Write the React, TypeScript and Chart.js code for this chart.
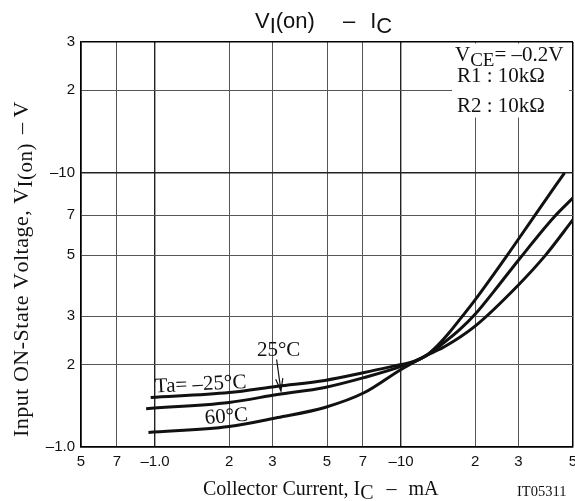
import React, { useEffect, useRef } from "react";
import { Chart, registerables } from "chart.js";

Chart.register(...registerables);

// ---- Data ----
const xTicks = [0.5, 0.7, 1, 2, 3, 5, 7, 10, 20, 30, 50];
const xTickLabels = ["5", "7", "–1.0", "2", "3", "5", "7", "–10", "2", "3", "5"];
const yTicks = [1, 2, 3, 5, 7, 10, 20, 30];
const yTickLabels = ["–1.0", "2", "3", "5", "7", "–10", "2", "3"];

const icMinus25 = [0.96, 2, 3.15, 4.9, 7.1, 10, 11.3, 12.6, 14.1, 15.9, 17.6, 20, 27, 35, 46.2];
const vMinus25 = [1.516, 1.58, 1.667, 1.749, 1.869, 2.0, 2.05, 2.15, 2.35, 2.65, 2.97, 3.44, 5.0, 7.0, 10.0];
const ic25 = [0.92, 2, 3.15, 4.9, 7.1, 10, 12.6, 15, 17.3, 20, 25, 30, 41.9, 50];
const v25 = [1.38, 1.454, 1.554, 1.649, 1.793, 1.967, 2.15, 2.41, 2.68, 3.05, 3.9, 4.8, 6.9, 8.1];
const ic60 = [0.94, 2, 3.15, 4.9, 7.1, 10, 12.6, 15, 20, 30, 38.6, 50];
const v60 = [1.13, 1.188, 1.281, 1.394, 1.58, 1.918, 2.15, 2.32, 2.76, 3.9, 5.0, 6.75];

const SANS = "'Liberation Sans', Arial, sans-serif";
const SERIF = "'Liberation Serif', 'Times New Roman', serif";

type Part = { t: string; sub?: boolean; dx?: number };

function drawRich(
  ctx: CanvasRenderingContext2D,
  parts: Part[],
  x: number,
  y: number,
  font: string,
  subFont: string,
  subDy: number,
  spacing = 0
) {
  ctx.save();
  ctx.textAlign = "left";
  ctx.textBaseline = "alphabetic";
  let cx = x;
  parts.forEach((p) => {
    ctx.font = p.sub ? subFont : font;
    cx += p.dx || 0;
    for (const ch of p.t) {
      ctx.fillText(ch, cx, y + (p.sub ? subDy : 0));
      cx += ctx.measureText(ch).width + spacing;
    }
  });
  ctx.restore();
  return cx - x;
}

const annotPlugin = {
  id: "annot",
  afterDraw(chart: any) {
    const { ctx, scales, chartArea } = chart;
    const xs = scales.x;
    const ys = scales.y;
    ctx.save();
    ctx.fillStyle = "#111";

    // Title
    drawRich(
      ctx,
      [{ t: "V" }, { t: "I", sub: true }, { t: "(on)" }, { t: "–", dx: 28 }, { t: "I", dx: 15 }, { t: "C", sub: true }],
      255,
      28,
      `22px ${SANS}`,
      `22px ${SANS}`,
      5
    );

    // Y axis title (rotated)
    const yParts: Part[] = [
      { t: "Input ON-State Voltage, V" },
      { t: "I(on)", sub: true },
      { t: "–", dx: 9 },
      { t: "V", dx: 5 },
    ];
    ctx.save();
    ctx.translate(27.5, 437);
    ctx.rotate(-Math.PI / 2);
    drawRich(ctx, yParts, 0, 0, `22px ${SERIF}`, `21px ${SERIF}`, 4, 0.5);
    ctx.restore();

    // X axis title
    drawRich(
      ctx,
      [{ t: "Collector Current, I" }, { t: "C", sub: true }, { t: "–", dx: 13 }, { t: "mA", dx: 12 }],
      203,
      495,
      `20px ${SERIF}`,
      `20px ${SERIF}`,
      4
    );
    ctx.font = `14.5px ${SERIF}`;
    ctx.textAlign = "left";
    ctx.fillText("IT05311", 517, 496);

    // Condition box
    const bx = chartArea.right - 121;
    ctx.fillStyle = "#fff";
    ctx.fillRect(bx, chartArea.top + 1.5, 117, 74);
    ctx.fillStyle = "#111";
    drawRich(
      ctx,
      [{ t: "V" }, { t: "CE", sub: true }, { t: "= –0.2V" }],
      bx + 3,
      61,
      `21px ${SERIF}`,
      `19px ${SERIF}`,
      5
    );
    ctx.font = `21px ${SERIF}`;
    ctx.textAlign = "left";
    ctx.fillText("R1 : 10kΩ", bx + 5, 82);
    ctx.fillText("R2 : 10kΩ", bx + 5, 112);

    // Curve labels
    ctx.font = `21px ${SERIF}`;
    const px = (v: number) => xs.getPixelForValue(v);
    const py = (v: number) => ys.getPixelForValue(v);

    ctx.save();
    ctx.translate(px(1.0), py(1.58));
    ctx.rotate(-0.05);
    ctx.textAlign = "left";
    ctx.fillText("Ta= –25°C", 0, 0);
    ctx.restore();

    ctx.save();
    ctx.translate(px(1.96), py(1.23));
    ctx.rotate(-0.08);
    ctx.textAlign = "center";
    ctx.fillText("60°C", 0, 0);
    ctx.restore();

    ctx.textAlign = "center";
    ctx.fillText("25°C", px(3.18), py(2.14));

    // Arrow
    const ax0 = px(3.12), ay0 = py(2.085);
    const ax1 = px(3.25), ay1 = py(1.6);
    ctx.strokeStyle = "#111";
    ctx.lineWidth = 1.2;
    ctx.beginPath();
    ctx.moveTo(ax0, ay0);
    ctx.lineTo(ax1, ay1);
    const ang = Math.atan2(ay1 - ay0, ax1 - ax0);
    const L = 13, a = 0.28;
    ctx.moveTo(ax1 - L * Math.cos(ang - a), ay1 - L * Math.sin(ang - a));
    ctx.lineTo(ax1, ay1);
    ctx.lineTo(ax1 - L * Math.cos(ang + a), ay1 - L * Math.sin(ang + a));
    ctx.stroke();

    ctx.restore();
  },
};

function gridColor(v: number, edges: number[]) {
  if (edges.includes(v)) return "#000";
  if (v === 1 || v === 10) return "#222";
  return "#555";
}
function gridWidth(v: number, edges: number[]) {
  if (edges.includes(v)) return 1.5;
  if (v === 1 || v === 10) return 1.4;
  return 1;
}

function toPoints(xs: number[], ys: number[]) {
  return xs.map((x, i) => ({ x, y: ys[i] }));
}

export default function App() {
  const ref = useRef<HTMLCanvasElement | null>(null);

  useEffect(() => {
    if (!ref.current) return;
    const lineStyle = {
      borderColor: "#111",
      borderWidth: 3,
      pointRadius: 0,
      fill: false,
      cubicInterpolationMode: "monotone" as const,
    };
    const chart = new Chart(ref.current, {
      type: "line",
      data: {
        datasets: [
          { label: "Ta=-25°C", data: toPoints(icMinus25, vMinus25), ...lineStyle },
          { label: "25°C", data: toPoints(ic25, v25), ...lineStyle },
          { label: "60°C", data: toPoints(ic60, v60), ...lineStyle },
        ],
      },
      options: {
        responsive: false,
        maintainAspectRatio: false,
        animation: false,
        layout: { padding: { top: 42, right: 2, left: 0, bottom: 0 } },
        plugins: {
          legend: { display: false },
          tooltip: { enabled: false },
          title: { display: false },
        },
        scales: {
          x: {
            type: "logarithmic",
            min: 0.5,
            max: 50,
            afterBuildTicks: (s: any) => {
              s.ticks = xTicks.map((v) => ({ value: v }));
            },
            afterFit: (s: any) => {
              s.height = 54;
              s.paddingLeft = 0;
              s.paddingRight = 0;
            },
            ticks: {
              autoSkip: false,
              maxRotation: 0,
              minRotation: 0,
              padding: 6,
              color: "#111",
              font: { family: SANS, size: 15 },
              callback: (_v: any, i: number) => xTickLabels[i],
            },
            grid: {
              drawTicks: false,
              color: (c: any) => gridColor(c.tick?.value, [0.5, 50]),
              lineWidth: (c: any) => gridWidth(c.tick?.value, [0.5, 50]),
            },
            border: { display: true, color: "#000", width: 1.5 },
          },
          y: {
            type: "logarithmic",
            min: 1,
            max: 30,
            afterBuildTicks: (s: any) => {
              s.ticks = yTicks.map((v) => ({ value: v }));
            },
            afterFit: (s: any) => {
              s.width = 81;
              s.paddingTop = 0;
              s.paddingBottom = 0;
            },
            ticks: {
              autoSkip: false,
              padding: 6,
              color: "#111",
              font: { family: SANS, size: 15 },
              callback: (_v: any, i: number) => yTickLabels[i],
            },
            grid: {
              drawTicks: false,
              color: (c: any) => gridColor(c.tick?.value, [1, 30]),
              lineWidth: (c: any) => gridWidth(c.tick?.value, [1, 30]),
            },
            border: { display: true, color: "#000", width: 1.5 },
          },
        },
      },
      plugins: [annotPlugin],
    } as any);
    return () => chart.destroy();
  }, []);

  return (
    <div style={{ position: "absolute", left: 0, top: 0, width: 575, height: 501, background: "#fff" }}>
      <canvas ref={ref} width={575} height={501} style={{ width: 575, height: 501, display: "block" }} />
    </div>
  );
}
